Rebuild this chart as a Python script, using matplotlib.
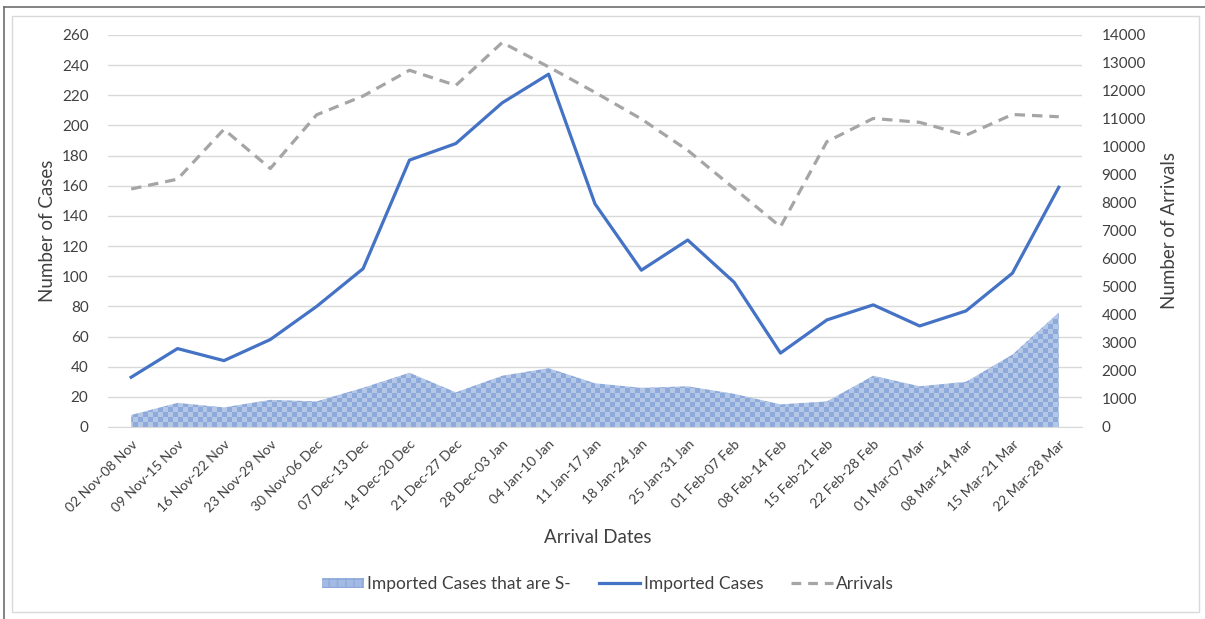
import numpy as np
import matplotlib.pyplot as plt
from matplotlib.colors import ListedColormap
from matplotlib.patches import Rectangle, Patch
from matplotlib.lines import Line2D

plt.rcParams['font.family'] = ['Lato', 'DejaVu Sans']
plt.rcParams['lines.scale_dashes'] = False

# data
weeks = ['02 Nov-08 Nov', '09 Nov-15 Nov', '16 Nov-22 Nov', '23 Nov-29 Nov',
         '30 Nov-06 Dec', '07 Dec-13 Dec', '14 Dec-20 Dec', '21 Dec-27 Dec',
         '28 Dec-03 Jan', '04 Jan-10 Jan', '11 Jan-17 Jan', '18 Jan-24 Jan',
         '25 Jan-31 Jan', '01 Feb-07 Feb', '08 Feb-14 Feb', '15 Feb-21 Feb',
         '22 Feb-28 Feb', '01 Mar-07 Mar', '08 Mar-14 Mar', '15 Mar-21 Mar',
         '22 Mar-28 Mar']
imported = [33, 52, 44, 58, 80, 105, 177, 188, 215, 234, 148, 104, 124, 96,
            49, 71, 81, 67, 77, 102, 159]
imported_sneg = [8, 16, 13, 18, 17, 26, 36, 23, 34, 39, 29, 26, 27, 22,
                 15, 17, 34, 27, 30, 48, 76]
arrivals = [8500, 8850, 10630, 9230, 11150, 11820, 12740, 12200, 13730, 12860,
            11950, 11000, 9880, 8520, 7150, 10190, 11020, 10880, 10420, 11160, 11080]

x = np.arange(len(weeks))
txt = '#404040'

fig = plt.figure(figsize=(12.05, 6.19), dpi=100)
ax = fig.add_axes([0.0896, 0.3102, 0.8083, 0.6333])
ax2 = ax.twinx()

# checkered area (texture clipped to the filled area)
poly = ax.fill_between(x, imported_sneg, 0, facecolor='none', edgecolor='none', zorder=2)
ny, nx = 80, 196
chk = (np.indices((ny, nx)).sum(axis=0) % 2).astype(float)
img = ax.imshow(chk, cmap=ListedColormap(['#b4c7e7', '#8eaadb']),
                extent=[-0.5, 20.5, 0, 260], aspect='auto', interpolation='nearest',
                origin='lower', zorder=2)
img.set_clip_path(poly.get_paths()[0], transform=ax.transData)

ax.plot(x, imported, color='#4472c4', lw=2.3, zorder=3, solid_joinstyle='round')
ax2.plot(x, arrivals, color='#a5a5a5', lw=2.3, dashes=(7.5, 5), zorder=3)

ax.set_xlim(-0.5, 20.5)
ax.set_ylim(0, 260)
ax.set_yticks(range(0, 261, 20))
ax2.set_ylim(0, 14000)
ax2.set_yticks(range(0, 14001, 1000))

ax.grid(axis='y', color='#d9d9d9', lw=1)
ax.set_axisbelow(True)
for a in (ax, ax2):
    for s in a.spines.values():
        s.set_visible(False)
    a.tick_params(length=0, labelsize=11, colors=txt, pad=14)
ax.spines['bottom'].set_visible(True)
ax.spines['bottom'].set_color('#d9d9d9')

ax.set_xticks(x)
ax.set_xticklabels(weeks, rotation=45, ha='right', rotation_mode='anchor', fontsize=10)
ax.tick_params(axis='x', pad=8)

ax.set_ylabel('Number of Cases', fontsize=13.5, color=txt, labelpad=4)
ax2.set_ylabel('Number of Arrivals', fontsize=13.5, color=txt, labelpad=11)
fig.text(0.496, 0.132, 'Arrival Dates', fontsize=13.5, color=txt, ha='center', va='center')

handles = [Patch(facecolor='#a3bbe4', edgecolor='#8eaadb', hatch='++', lw=0),
           Line2D([], [], color='#4472c4', lw=2.3),
           Line2D([], [], color='#a5a5a5', lw=2.3, dashes=(7, 5))]
fig.legend(handles, ['Imported Cases that are S-', 'Imported Cases', 'Arrivals'],
           loc='center', bbox_to_anchor=(0.5046, 0.057), ncol=3, frameon=False,
           fontsize=12.5, handlelength=2.4, handleheight=0.5, columnspacing=1.6,
           handletextpad=0.2, labelcolor=txt)

# chart frame
fig.patches.append(Rectangle((12 / 1205, 1 - 612 / 619), 1187 / 1205, 596 / 619,
                             transform=fig.transFigure, fill=False, edgecolor='#d9d9d9', lw=1))
fig.add_artist(Line2D([4 / 1205, 4 / 1205], [0, 1 - 7 / 619], transform=fig.transFigure,
                      color='#6e6e6e', lw=1.2))
fig.add_artist(Line2D([4 / 1205, 1], [1 - 7 / 619, 1 - 7 / 619], transform=fig.transFigure,
                      color='#6e6e6e', lw=1.2))

fig.savefig('out.png', dpi=100, facecolor='white')
